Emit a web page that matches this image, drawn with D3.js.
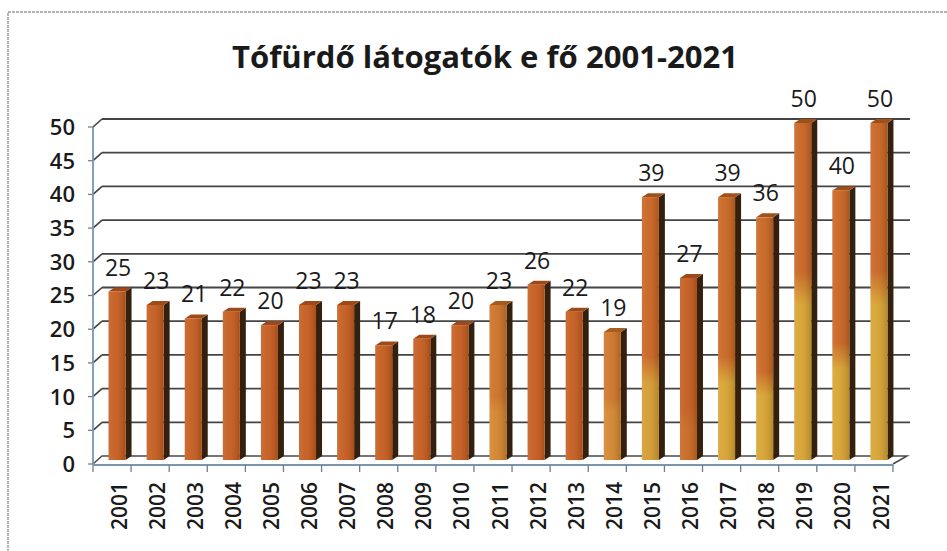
<!DOCTYPE html>
<html>
<head>
<meta charset="utf-8">
<script src="https://cdn.jsdelivr.net/npm/d3@7"></script>
<style>
  body { margin: 0; background: #fff; }
  text { font-family: "Open Sans", sans-serif; fill: #1a1a1a; }
</style>
</head>
<body>
<div class="canvas"></div>
<script>
// Data
const years = ['2001','2002','2003','2004','2005','2006','2007','2008','2009','2010',
    '2011','2012','2013','2014','2015','2016','2017','2018','2019','2020','2021'];
const visitors = [25, 23, 21, 22, 20, 23, 23, 17, 18, 20, 23, 26, 22, 19, 39, 27, 39, 36, 50, 40, 50];
const yTicks = [0, 5, 10, 15, 20, 25, 30, 35, 40, 45, 50];
const title = 'Tófürdő látogatók e fő 2001-2021';

// bar colouring (top colour, lower colour, value where the lower colour ends)
const dark = '#c45a1c', gold = '#d7a22e';
const tones = [
    [dark, dark, 0], [dark, dark, 0], [dark, dark, 0], [dark, dark, 0], [dark, dark, 0],
    [dark, dark, 0], [dark, dark, 0], [dark, dark, 0], [dark, dark, 0], [dark, dark, 0],
    ['#cc6f24', '#d2822a', 8], [dark, dark, 0], [dark, dark, 0], ['#cd7327', '#d2852c', 8],
    ['#c8621f', '#d49a2e', 13], [dark, '#c9661f', 6], ['#c8641f', gold, 13], ['#c8641f', gold, 11],
    ['#c8621f', gold, 25], ['#c8621f', gold, 15], ['#c8621f', gold, 25]
];

const dims = { width: 947, height: 551 };
const back = { dx: 9, dy: -8 };     // back wall offset
const mid = { dx: 5, dy: -4 };      // bar plane offset
const barW = 17, side = 6;

const svg = d3.select('.canvas')
    .append('svg')
    .attr('width', dims.width)
    .attr('height', dims.height);

const defs = svg.append('defs');

// frame
svg.append('path')
    .attr('d', 'M8,560 L8,12 L960,12')
    .attr('fill', 'none')
    .attr('stroke', '#9a9a9a')
    .attr('stroke-width', 1.5)
    .attr('stroke-dasharray', '3,1');

// title
svg.append('text')
    .attr('x', 485)
    .attr('y', 68)
    .attr('text-anchor', 'middle')
    .attr('font-size', 31)
    .attr('font-weight', 700)
    .attr('textLength', 506)
    .attr('lengthAdjust', 'spacingAndGlyphs')
    .text(title);

const x = d3.scaleBand()
    .domain(years)
    .range([93, 893]);

const y = d3.scaleLinear()
    .domain([0, 50])
    .range([464, 127]);

// back wall gridlines + left wall slants
const grid = svg.append('g');
yTicks.forEach(t => {
    const yy = y(t);
    if (t > 0) {
        grid.append('line')
            .attr('x1', 93 + back.dx).attr('x2', 910)
            .attr('y1', yy + back.dy).attr('y2', yy + back.dy)
            .attr('stroke', '#444').attr('stroke-width', 1.8);
        grid.append('line')
            .attr('x1', 93).attr('x2', 93 + back.dx)
            .attr('y1', yy).attr('y2', yy + back.dy)
            .attr('stroke', '#444').attr('stroke-width', 1.6);
    }
    // y tick mark
    grid.append('line')
        .attr('x1', 88).attr('x2', 93)
        .attr('y1', yy).attr('y2', yy)
        .attr('stroke', '#6c7f92').attr('stroke-width', 1.3);
});

// floor
svg.append('path')
    .attr('d', `M93,${y(0)} L${93 + back.dx},${y(0) + back.dy} L${893 + back.dx + 5},${y(0) + back.dy} L893,${y(0)}`)
    .attr('fill', 'none')
    .attr('stroke', '#4a4a4a')
    .attr('stroke-width', 1.5);

// axes lines
svg.append('line')
    .attr('x1', 93).attr('x2', 93)
    .attr('y1', y(50)).attr('y2', y(0) + 1)
    .attr('stroke', '#7b95ad').attr('stroke-width', 1.8);
svg.append('line')
    .attr('x1', 93).attr('x2', 893)
    .attr('y1', y(0) + 1).attr('y2', y(0) + 1)
    .attr('stroke', '#7b95ad').attr('stroke-width', 1.8);

// x tick marks
svg.append('g').selectAll('line')
    .data(years.concat(['end']))
    .enter().append('line')
    .attr('x1', (d, i) => 93 + i * x.bandwidth())
    .attr('x2', (d, i) => 93 + i * x.bandwidth())
    .attr('y1', y(0) + 1).attr('y2', y(0) + 8)
    .attr('stroke', '#6c7f92').attr('stroke-width', 1.3);

// y labels
svg.append('g').selectAll('text')
    .data(yTicks)
    .enter().append('text')
    .attr('x', 75)
    .attr('y', d => y(d))
    .attr('dy', '0.36em')
    .attr('text-anchor', 'end')
    .attr('font-size', 22)
    .attr('font-weight', 600)
    .text(d => d);

// gradients per bar
years.forEach((yr, i) => {
    const [top, low, split] = tones[i];
    const v = visitors[i];
    const f = split > 0 ? 1 - split / v : 1;
    const g = defs.append('linearGradient')
        .attr('id', `bar${i}`)
        .attr('x1', 0).attr('y1', 0).attr('x2', 0).attr('y2', 1);
    g.append('stop').attr('offset', 0).attr('stop-color', top);
    g.append('stop').attr('offset', Math.max(0, f - 0.06)).attr('stop-color', top);
    g.append('stop').attr('offset', Math.min(1, f + 0.04)).attr('stop-color', low);
    g.append('stop').attr('offset', 1).attr('stop-color', low);
});

const shine = defs.append('linearGradient')
    .attr('id', 'shine')
    .attr('x1', 0).attr('y1', 0).attr('x2', 1).attr('y2', 0);
shine.append('stop').attr('offset', 0).attr('stop-color', '#fff').attr('stop-opacity', 0.12);
shine.append('stop').attr('offset', 0.35).attr('stop-color', '#fff').attr('stop-opacity', 0.06);
shine.append('stop').attr('offset', 1).attr('stop-color', '#000').attr('stop-opacity', 0.15);

// bars
const bars = svg.append('g').selectAll('g')
    .data(visitors)
    .enter().append('g');

const bx = (d, i) => x(years[i]) + x.bandwidth() / 2 + mid.dx - barW / 2;
const by = d => y(d) + mid.dy;
const base = y(0) + mid.dy;

// dark right side
bars.append('path')
    .attr('d', (d, i) => {
        const x0 = bx(d, i) + barW;
        return `M${x0},${by(d)} L${x0 + side},${by(d) - 4} L${x0 + side},${base - 4} L${x0},${base} Z`;
    })
    .attr('fill', '#33200f');

// top face
bars.append('path')
    .attr('d', (d, i) => {
        const x0 = bx(d, i);
        return `M${x0},${by(d)} L${x0 + side},${by(d) - 4} L${x0 + barW + side},${by(d) - 4} L${x0 + barW},${by(d)} Z`;
    })
    .attr('fill', (d, i) => d3.color(tones[i][0]).darker(0.6));

// front face
bars.append('rect')
    .attr('x', bx)
    .attr('y', by)
    .attr('width', barW)
    .attr('height', d => base - by(d))
    .attr('fill', (d, i) => `url(#bar${i})`);
bars.append('rect')
    .attr('x', bx)
    .attr('y', by)
    .attr('width', barW)
    .attr('height', d => base - by(d))
    .attr('fill', 'url(#shine)');

// value labels
bars.append('text')
    .attr('x', (d, i) => bx(d, i) + barW / 2 + 1)
    .attr('y', d => by(d) - 16)
    .attr('text-anchor', 'middle')
    .attr('font-size', 23)
    .attr('font-weight', 500)
    .text(d => d);

// x labels
svg.append('g').selectAll('text')
    .data(years)
    .enter().append('text')
    .attr('transform', d => `translate(${x(d) + x.bandwidth() / 2 + 7}, 482) rotate(-90)`)
    .attr('dy', '0.36em')
    .attr('text-anchor', 'end')
    .attr('font-size', 21)
    .attr('font-weight', 600)
    .text(d => d);
</script>
</body>
</html>
